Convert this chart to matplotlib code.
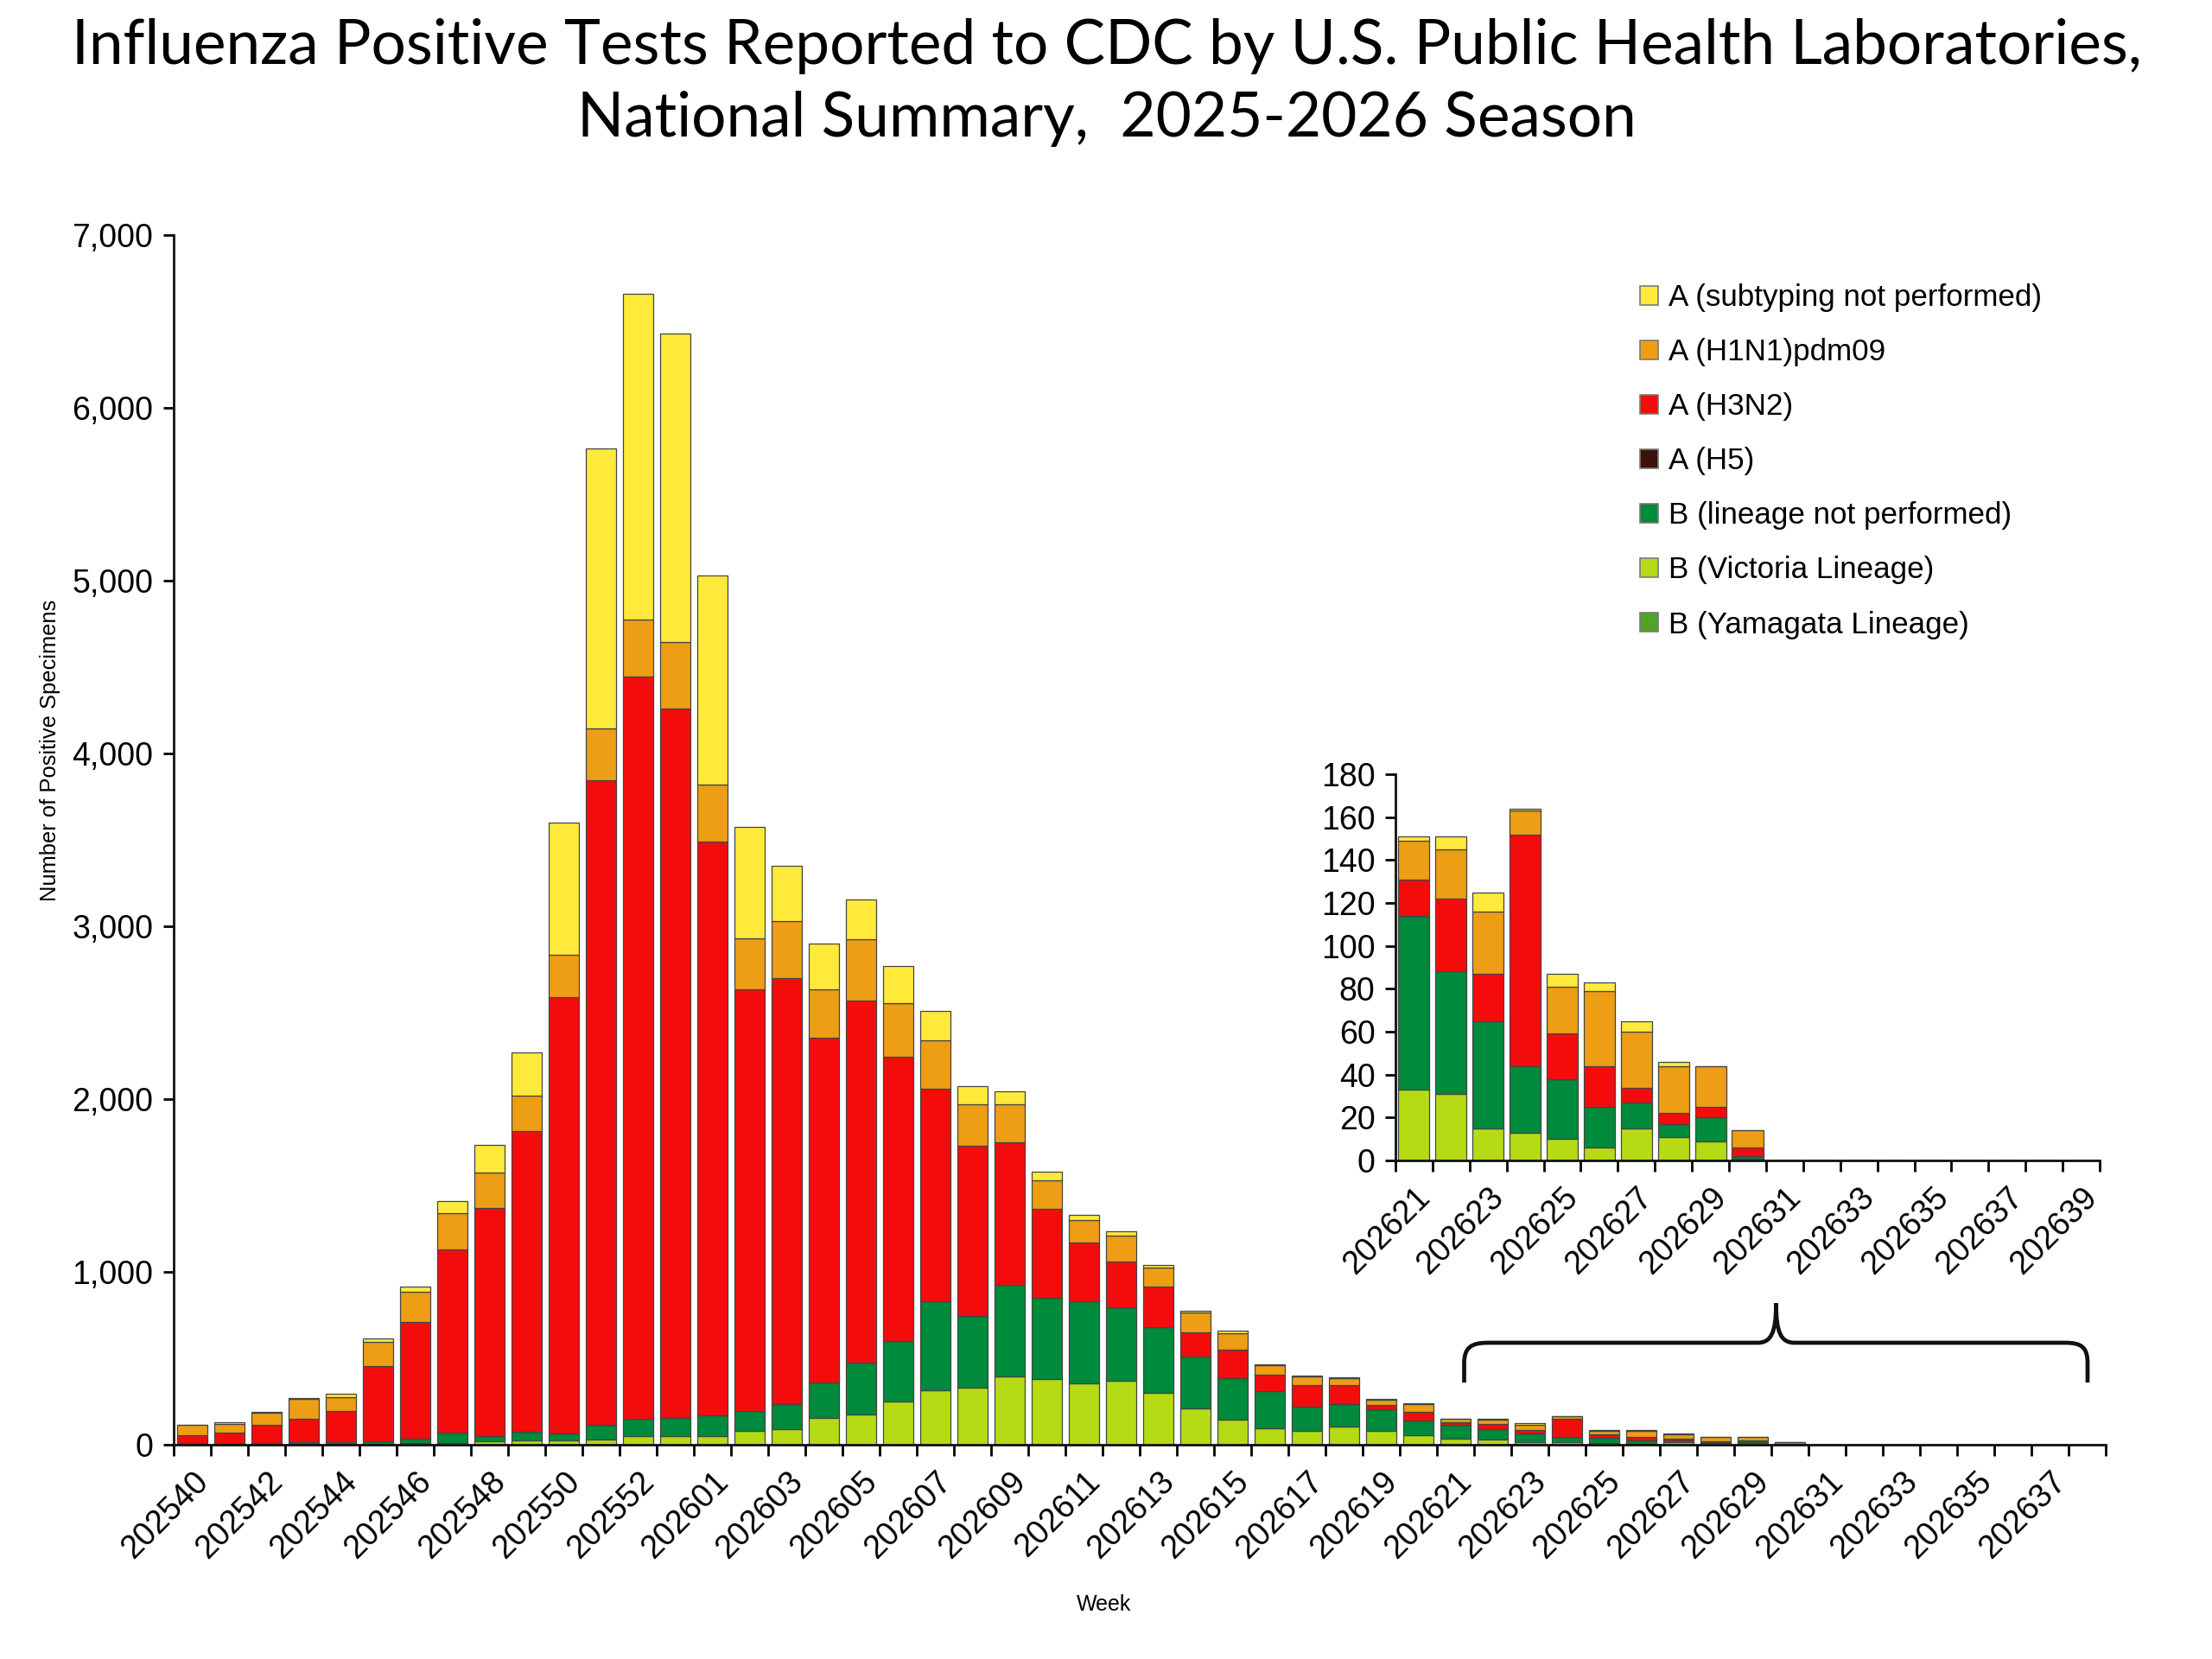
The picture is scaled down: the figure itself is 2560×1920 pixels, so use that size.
import matplotlib
matplotlib.use("Agg")
import matplotlib.pyplot as plt
import numpy as np
from matplotlib.patches import Patch, PathPatch
from matplotlib.path import Path
from matplotlib.ticker import FuncFormatter

# ---------------- data ----------------
weeks = [f"2025{w:02d}" for w in range(40, 54)] + [f"2026{w:02d}" for w in range(1, 40)]

b_victoria = [3, 2, 3, 4, 4, 5, 8, 10, 21, 25, 25, 32, 50, 48, 50, 80, 89, 157, 175, 249,
              314, 331, 395, 382, 357, 368, 302, 209, 147, 95, 80, 105, 79, 55, 33, 31, 15,
              13, 10, 6, 15, 11, 9, 1, 0, 0, 0, 0, 0, 0, 0, 0, 0]
b_yamagata = [0] * 53
b_not_performed = [5, 4, 9, 10, 9, 17, 29, 62, 29, 50, 41, 82, 98, 109, 119, 113, 148, 204,
                   300, 353, 518, 415, 530, 469, 474, 425, 378, 301, 239, 213, 139, 131, 128,
                   87, 81, 57, 50, 31, 28, 19, 12, 6, 11, 1, 0, 0, 0, 0, 0, 0, 0, 0, 0]
a_h5 = [0] * 53
a_h3n2 = [45, 64, 105, 135, 184, 433, 672, 1057, 1318, 1738, 2524, 3732, 4296, 4104, 3322,
          2440, 2462, 1995, 2096, 1644, 1229, 983, 823, 512, 339, 266, 237, 142, 164, 98, 126,
          109, 22, 50, 17, 34, 22, 108, 21, 19, 7, 5, 5, 4, 0, 0, 0, 0, 0, 0, 0, 0, 0]
a_h1n1 = [62, 52, 67, 115, 76, 139, 176, 209, 209, 209, 247, 299, 333, 382, 328, 299, 333,
          281, 355, 311, 279, 239, 220, 166, 132, 151, 110, 114, 94, 54, 51, 41, 32, 44, 18,
          23, 29, 11, 22, 35, 26, 22, 19, 8, 0, 0, 0, 0, 0, 0, 0, 0, 0]
a_not_subtyped = [2, 7, 8, 7, 20, 20, 31, 70, 156, 247, 763, 1619, 1883, 1789, 1211, 644,
                  316, 264, 231, 213, 171, 106, 78, 51, 29, 24, 11, 11, 16, 3, 4, 4, 3, 2, 2,
                  6, 9, 1, 6, 4, 5, 2, 0, 0, 0, 0, 0, 0, 0, 0, 0, 0, 0]

main_weeks = weeks[:52]          # 202540 .. 202638
inset_start = weeks.index("202621")  # inset 202621 .. 202639

# stacking order bottom -> top
series = [
    ("B (Yamagata Lineage)", b_yamagata, "#52A32A"),
    ("B (Victoria Lineage)", b_victoria, "#B5DB14"),
    ("B (lineage not performed)", b_not_performed, "#008A3B"),
    ("A (H5)", a_h5, "#3A1208"),
    ("A (H3N2)", a_h3n2, "#F40C0C"),
    ("A (H1N1)pdm09", a_h1n1, "#EE9E14"),
    ("A (subtyping not performed)", a_not_subtyped, "#FFE93A"),
]

FONT = ["Liberation Sans", "DejaVu Sans"]
plt.rcParams["font.family"] = FONT

fig = plt.figure(figsize=(12.8, 9.6), dpi=200)
W, H = 2560.0, 1920.0


def stacked(ax, idx, width):
    x = np.arange(len(idx))
    bottom = np.zeros(len(idx))
    for name, vals, col in series:
        v = np.array([vals[i] for i in idx], dtype=float)
        ax.bar(x, v, width=width, bottom=bottom, color=col, edgecolor="#444444",
               linewidth=0.45, zorder=2)
        bottom += v


def style_axes(ax, n, labels, fs):
    for s in ("top", "right"):
        ax.spines[s].set_visible(False)
    for s in ("left", "bottom"):
        ax.spines[s].set_linewidth(1.0)
        ax.spines[s].set_color("#111111")
    ax.set_xlim(-0.5, n - 0.5)
    ax.set_xticks(np.arange(n + 1) - 0.5)
    ax.set_xticklabels([])
    ax.tick_params(axis="x", which="major", length=4.5, width=1.0, direction="out")
    ax.set_xticks(np.arange(0, n, 2), minor=True)
    ax.set_xticklabels(labels[0::2], minor=True, rotation=45, ha="right",
                       rotation_mode="anchor", fontsize=fs)
    ax.tick_params(axis="x", which="minor", length=0, pad=9)
    ax.tick_params(axis="y", length=4.5, width=1.0, direction="out", labelsize=fs, pad=4)


# ---------------- main chart ----------------
ax = fig.add_axes([201 / W, 1 - 1672 / H, (2437 - 201) / W, (1672 - 272) / H])
stacked(ax, list(range(52)), 0.82)
style_axes(ax, 52, main_weeks, 13.5)
ax.set_ylim(0, 7000)
ax.set_yticks(np.arange(0, 7001, 1000))
ax.yaxis.set_major_formatter(FuncFormatter(lambda v, p: f"{int(v):,}"))

# legend (listed top -> bottom as in the reference)
handles = [Patch(facecolor=c, edgecolor="#7a7a7a", linewidth=0.6) for _, _, c in series[::-1]]
labels = [n for n, _, _ in series[::-1]]
ax.legend(handles, labels, loc="upper left", bbox_to_anchor=(1898 / W, 1 - 328 / H),
          bbox_transform=fig.transFigure, frameon=False, fontsize=12.6,
          handlelength=0.6, handleheight=0.6, handletextpad=0.35, labelspacing=0.86,
          borderpad=0, borderaxespad=0)

# ---------------- inset ----------------
inset_idx = list(range(inset_start, len(weeks)))
axi = fig.add_axes([1615 / W, 1 - 1343 / H, (2430 - 1615) / W, (1343 - 896) / H])
stacked(axi, inset_idx, 0.84)
style_axes(axi, len(inset_idx), weeks[inset_start:], 13.5)
axi.set_ylim(0, 180)
axi.set_yticks(np.arange(0, 181, 20))
axi.patch.set_alpha(0)

# ---------------- brace ----------------
pts = [(1694.5, 1600), (1694.5, 1578), (1694.5, 1560), (1702, 1554), (1722, 1554),
       (2034, 1554), (2050, 1554), (2055.5, 1542), (2055.5, 1508),
       (2055.5, 1542), (2061, 1554), (2077, 1554),
       (2390, 1554), (2410, 1554), (2416, 1560), (2416, 1578), (2416, 1600)]
codes = [Path.MOVETO, Path.LINETO, Path.CURVE4, Path.CURVE4, Path.CURVE4,
         Path.LINETO, Path.CURVE4, Path.CURVE4, Path.CURVE4,
         Path.CURVE4, Path.CURVE4, Path.CURVE4,
         Path.LINETO, Path.CURVE4, Path.CURVE4, Path.CURVE4, Path.LINETO]
verts = [(x / W, 1 - y / H) for x, y in pts]
fig.patches.append(PathPatch(Path(verts, codes), transform=fig.transFigure,
                             facecolor="none", edgecolor="#111111", linewidth=1.7))

# ---------------- texts ----------------
fig.text(0.5005, 1 - 53 / H,
         "Influenza Positive Tests Reported to CDC by U.S. Public Health Laboratories,",
         ha="center", va="center", fontsize=25.6, family=["Lato", "DejaVu Sans"])
fig.text(0.5005, 1 - 137 / H, "National Summary,  2025-2026 Season",
         ha="center", va="center", fontsize=25.6, family=["Lato", "DejaVu Sans"])
fig.text(58 / W, 1 - 868 / H, "Number of Positive Specimens", rotation=90,
         ha="center", va="center", fontsize=9.2)
fig.text(1278 / W, 1 - 1857 / H, "Week", ha="center", va="center", fontsize=9)

fig.savefig("out.png", dpi=200)
